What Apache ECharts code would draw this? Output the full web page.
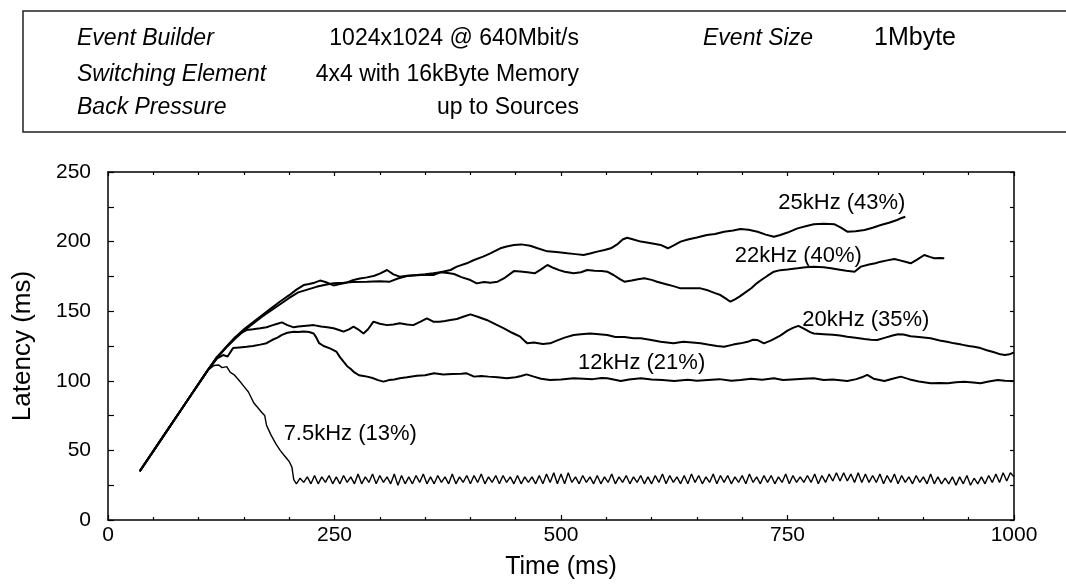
<!DOCTYPE html>
<html>
<head>
<meta charset="utf-8">
<script src="https://cdn.jsdelivr.net/npm/echarts/dist/echarts.min.js"></script>
<style>
html,body{margin:0;padding:0;background:#fff;}
#c{width:1066px;height:584px;}
</style>
</head>
<body>
<div id="c"></div>
<script>
// ---- data ----
const X_RANGE = [0, 1000];
const Y_RANGE = [0, 250];
const X_LABELS = [0, 250, 500, 750, 1000];
const Y_LABELS = [0, 50, 100, 150, 200, 250];

// common linear rise shared by all runs
const RISE = [[35,35],[50,49.5],[65,64],[80,78.5],[95,93],[110,107.5]];

const S75_HEAD = [[117,111],[122,111.4],[126,109.5],[131,110.2],[135,106],[139,104.5],[145,100],[150,96],[155,92],[158,88],[161,84],[165,81],[170,77],[173,75],[175,68],[180,61],[185,55],[190,50],[195,46],[200,42],[203,38],[205,29]];
// steady-state sawtooth of the 7.5 kHz run, one value every 4 ms from 208 ms
const S75_TAIL_START = 208;
const S75_TAIL_STEP = 4;
const S75_TAIL = [
26,30,27,31,26,32,26,31,27,32,
26,31,26,32,27,31,26,33,26,31,
27,33,26,32,27,31,26,33,25,32,
26,31,26,32,27,33,26,31,26,32,
27,31,26,33,26,31,27,32,26,32,
27,33,26,31,27,32,26,32,27,31,
26,32,26,31,27,31,26,32,26,33,
27,34,26,33,26,34,27,31,26,32,
27,31,26,32,26,31,27,33,26,31,
27,32,26,31,27,32,26,31,26,32,
27,33,26,32,27,31,26,32,26,33,
27,32,26,31,27,33,26,32,27,32,
26,31,27,32,26,33,27,31,26,32,
27,32,26,31,27,33,26,32,27,31,
27,32,27,33,26,32,27,33,28,34,
28,34,28,33,27,34,27,33,27,32,
27,33,26,32,27,33,26,32,27,31,
26,32,27,31,26,33,26,31,26,30,
26,31,25,31,26,32,25,30,26,31,
26,32,27,33,27,34,28,34,31];

const S12 = [[120,116],[127,118.5],[132,117.5],[138,123.5],[145,124],[153,124.5],[160,125],[168,126],[175,127],[181,129.3],[187,131],[192,133],[198,134.5],[205,135.3],[210,135],[216,135.5],[222,135],[227,134],[230,131],[233,127],[238,125],[245,123.3],[252,121],[256,117],[260,113.7],[264,110.5],[268,108.5],[272,106],[277,104],[282,103.5],[286,103],[292,102],[298,100.5],[304,99.4],[310,100.5],[316,101],[322,101.8],[330,102.5],[341,103.7],[350,104],[360,105.4],[370,104.6],[380,104.8],[390,105],[396,105.4],[404,103],[412,103.5],[420,103],[430,102.5],[440,101.8],[450,102.5],[456,103.5],[462,104.6],[470,103],[478,101.5],[488,100.6],[500,101],[514,101.8],[525,101.5],[535,101.2],[545,102],[551,101.8],[558,101],[566,99.9],[575,101],[588,101.8],[600,101],[612,100.5],[625,99.9],[640,100.8],[650,100],[662,100.6],[675,101.2],[688,100],[698,100.6],[710,101.5],[722,100.8],[735,101.8],[745,100.6],[755,101],[768,101.5],[779,101.8],[790,100.5],[800,101],[816,99.9],[826,101.2],[832,102.5],[838,104.2],[845,101.5],[857,99.9],[866,101.5],[875,103],[885,101],[895,99.5],[908,98.2],[918,98.5],[927,98.2],[936,99],[945,99.4],[955,98.8],[963,98.2],[972,99.5],[982,100.6],[990,100],[1000,99.9]];

const S20 = [[120,116],[130,124],[140,131],[147,134.5],[153,136.5],[160,137],[168,137.7],[175,138.5],[182,140],[187,141],[192,142],[198,140],[205,138.4],[210,139],[216,139.4],[222,139.8],[227,140],[235,139],[242,138.5],[249,137.7],[255,136.5],[260,135.3],[266,137],[271,138.9],[276,137],[282,134],[287,137],[293,142.5],[300,141],[308,140],[315,140.5],[322,141.3],[330,140.5],[337,140],[345,142.5],[352,144.9],[359,142.5],[366,142.5],[372,143],[378,143.7],[385,144.4],[392,146],[400,147.7],[408,146],[418,143.7],[428,140.5],[437,137.7],[446,134.5],[455,131.7],[460,128.5],[463,126.9],[470,127.5],[480,126.5],[488,126.9],[496,129],[504,131],[514,132.9],[522,133.5],[532,134],[542,133.5],[551,132.9],[560,131.5],[570,131.5],[580,130.5],[588,130.5],[598,129.5],[610,128],[624,126.9],[635,128],[645,127.5],[654,126.9],[662,126],[672,125],[680,124.5],[690,126],[698,126.9],[706,128],[712,129.5],[717,129.3],[724,126.9],[732,129],[742,132.5],[750,136],[756,138],[762,139.5],[768,137.5],[775,135],[779,134],[790,133.5],[800,133],[808,132.5],[816,131.7],[825,131],[835,130],[842,129.5],[849,129.3],[858,131],[866,132.5],[872,133.5],[878,133.3],[886,132],[895,131.5],[908,130.5],[918,129],[926,128],[934,126.9],[942,126],[950,125],[956,124.5],[963,123.5],[970,122],[978,120.5],[985,119],[990,118.5],[995,119],[1000,120.4]];

const S22 = [[120,116.5],[130,123.5],[140,130],[150,136],[160,141],[170,146],[180,150.5],[190,155],[200,159.5],[210,163.5],[220,165.5],[230,167.5],[240,169],[249,170],[260,170.5],[270,171],[286,171.2],[300,171.5],[311,171.2],[320,173.5],[330,175.3],[345,176],[359,176],[367,178],[375,177.5],[382,176.7],[390,174.5],[400,172.4],[407,170],[415,171],[422,170.5],[430,171.2],[438,174],[448,178.8],[455,178.5],[463,178],[471,177.2],[478,180],[485,183.2],[492,181],[498,179.5],[504,178.4],[514,177.2],[522,178],[529,179.6],[537,179],[545,178.8],[551,178.4],[558,176],[565,173],[570,171.2],[578,172],[585,173],[592,173.6],[600,172.5],[606,171.2],[615,169.5],[624,168],[632,166.4],[642,166.5],[654,166.4],[662,165],[670,163],[676,161.6],[682,159],[687,156.8],[692,158.5],[697,160.5],[702,162.8],[710,166.5],[716,170],[721,172.4],[728,175.5],[735,178.4],[742,179.5],[750,180],[761,180.8],[770,181.5],[779,182],[790,181.5],[798,180.8],[806,180],[815,179],[824,178.4],[831,182],[840,183.5],[847,184.5],[853,185.6],[860,186.5],[868,187.5],[874,186.5],[880,185.5],[886,184.4],[893,187],[901,190.4],[907,189],[912,188],[918,188.3],[923,188]];

const S25 = [[120,117],[130,124],[140,131],[150,137],[160,142],[170,147],[180,152],[190,157],[200,161.5],[208,165.5],[216,168.8],[222,169.5],[228,170.5],[234,172],[240,171],[249,168.5],[256,169.5],[263,170.5],[271,172.4],[278,173.5],[286,174.3],[294,175.5],[300,177],[308,179.6],[315,176.5],[322,174.8],[330,175.5],[341,176],[350,176.5],[359,177.2],[367,178],[378,179.6],[385,182],[396,184.4],[404,186.8],[414,189.2],[422,191.6],[433,195.2],[440,196.5],[448,197.6],[456,198],[466,197],[475,195],[485,193],[495,192.5],[507,191.6],[516,191],[525,190.4],[532,191.5],[540,192.8],[548,194],[555,195.2],[562,198],[568,201.5],[573,202.8],[580,201.5],[588,200],[598,199],[610,197.6],[618,195.2],[625,197.5],[632,200],[640,201.5],[650,203],[661,204.7],[670,205.5],[680,207.1],[690,208],[698,209],[707,208.5],[717,207.1],[726,205],[735,203.5],[742,204.7],[750,206.5],[761,209.5],[770,211],[779,212.4],[790,212.8],[802,212.4],[809,210],[816,207.1],[825,207.5],[835,208.3],[844,210],[853,211.9],[862,213.5],[871,215.5],[876,217],[880,217.9]];

const CURVE_LABELS = ['25kHz (43%)','22kHz (40%)','20kHz (35%)','12kHz (21%)','7.5kHz (13%)'];
const CURVE_LABEL_AT = [[810,227.7],[762,189.7],[836.5,143.7],[589,112.8],[267.4,61.8]];

const HEADER_LEFT = ['Event Builder','Switching Element','Back Pressure'];
const HEADER_VALUES = ['1024x1024 @ 640Mbit/s','4x4 with 16kByte Memory','up to Sources'];
const HEADER_RIGHT_KEY = 'Event Size';
const HEADER_RIGHT_VALUE = '1Mbyte';

// ---- build ----
const FONT = '"Liberation Sans", Arial, Helvetica, sans-serif';
const s75 = RISE.concat(S75_HEAD, S75_TAIL.map((v, i) => [S75_TAIL_START + i * S75_TAIL_STEP, v]));
const series = [
  {name:'25kHz', data: RISE.concat(S25), w:2},
  {name:'22kHz', data: RISE.concat(S22), w:2},
  {name:'20kHz', data: RISE.concat(S20), w:2},
  {name:'12kHz', data: RISE.concat(S12), w:2},
  {name:'7.5kHz', data: s75, w:1.4}
].map(s => ({
  type:'line', name:s.name, data:s.data, showSymbol:false, symbol:'none',
  lineStyle:{color:'#000', width:s.w}, xAxisIndex:0, yAxisIndex:0,
  animation:false, silent:true
}));

const chart = echarts.init(document.getElementById('c'), null, {renderer:'canvas'});
const axisLine = {show:true, onZero:false, lineStyle:{color:'#000', width:1.5}};
const xLabelFmt = v => (X_LABELS.indexOf(v) >= 0 ? String(v) : '');
const yLabelFmt = v => (Y_LABELS.indexOf(v) >= 0 ? String(v) : '');

const option = {
  backgroundColor:'#fff',
  animation:false,
  grid:{left:108, right:52, top:172, bottom:64, containLabel:false, outerBoundsMode:'none'},
  xAxis:[
    {type:'value', min:X_RANGE[0], max:X_RANGE[1], interval:250, position:'bottom',
     axisLine, splitLine:{show:false},
     axisTick:{show:true, inside:true, length:5, lineStyle:{color:'#000', width:1.2}},
     minorTick:{show:true, splitNumber:5, length:3, lineStyle:{color:'#000', width:1.2}},
     axisLabel:{color:'#000', fontSize:21, fontFamily:FONT, margin:5, formatter:xLabelFmt},
     name:'Time (ms)', nameLocation:'middle', nameGap:35,
     nameTextStyle:{color:'#000', fontSize:25, fontFamily:FONT}},
    {type:'value', min:X_RANGE[0], max:X_RANGE[1], interval:250, position:'top',
     axisLine, splitLine:{show:false},
     axisTick:{show:true, inside:true, length:4, lineStyle:{color:'#000', width:1.2}},
     minorTick:{show:true, splitNumber:5, length:3, lineStyle:{color:'#000', width:1.2}},
     axisLabel:{show:false}}
  ],
  yAxis:[
    {type:'value', min:Y_RANGE[0], max:Y_RANGE[1], interval:50, position:'left',
     axisLine, splitLine:{show:false},
     axisTick:{show:true, inside:true, length:6, lineStyle:{color:'#000', width:1.2}},
     minorTick:{show:true, splitNumber:2, length:6, lineStyle:{color:'#000', width:1.2}},
     axisLabel:{color:'#000', fontSize:21, fontFamily:FONT, margin:17, formatter:yLabelFmt},
     name:'Latency (ms)', nameLocation:'middle', nameRotate:90, nameGap:72,
     nameTextStyle:{color:'#000', fontSize:26, fontFamily:FONT}},
    {type:'value', min:Y_RANGE[0], max:Y_RANGE[1], interval:50, position:'right',
     axisLine, splitLine:{show:false},
     axisTick:{show:true, inside:true, length:4, lineStyle:{color:'#000', width:1.2}},
     minorTick:{show:true, splitNumber:2, length:4, lineStyle:{color:'#000', width:1.2}},
     axisLabel:{show:false}}
  ],
  series
};
chart.setOption(option);

// header box and curve labels
const graphics = [
  {type:'rect', shape:{x:23, y:11, width:1100, height:121},
   style:{fill:'none', stroke:'#222', lineWidth:1.5}, silent:true}
];
const rowsY = [39, 75, 108];
HEADER_LEFT.forEach((t, i) => graphics.push({type:'text', x:77, y:rowsY[i],
  style:{text:t, font:'italic 23px ' + FONT, fill:'#000', textAlign:'left', textVerticalAlign:'middle'}}));
HEADER_VALUES.forEach((t, i) => graphics.push({type:'text', x:579, y:rowsY[i],
  style:{text:t, font:'23px ' + FONT, fill:'#000', textAlign:'right', textVerticalAlign:'middle'}}));
graphics.push({type:'text', x:703, y:rowsY[0],
  style:{text:HEADER_RIGHT_KEY, font:'italic 23px ' + FONT, fill:'#000', textAlign:'left', textVerticalAlign:'middle'}});
graphics.push({type:'text', x:874, y:rowsY[0] - 1,
  style:{text:HEADER_RIGHT_VALUE, font:'25px ' + FONT, fill:'#000', textAlign:'left', textVerticalAlign:'middle'}});

CURVE_LABELS.forEach((t, i) => {
  const p = chart.convertToPixel({xAxisIndex:0, yAxisIndex:0}, CURVE_LABEL_AT[i]);
  graphics.push({type:'text', x:p[0], y:p[1],
    style:{text:t, font:'22px ' + FONT, fill:'#000', textAlign:'center', textVerticalAlign:'middle'}});
});
chart.setOption({graphic:graphics});
</script>
</body>
</html>
